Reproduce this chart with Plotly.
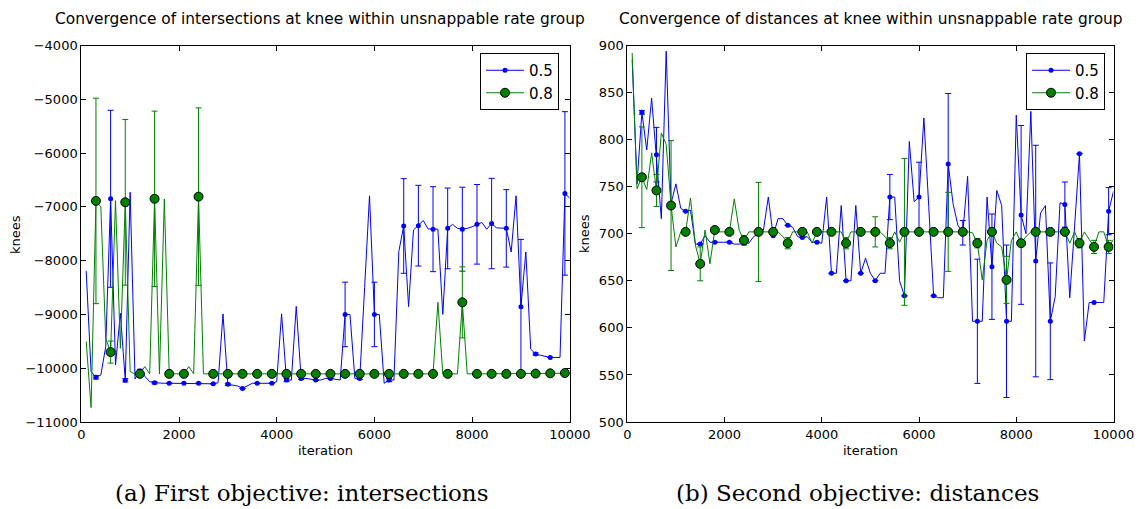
import plotly.graph_objects as go

# ---------------- data ----------------
iterations = list(range(100, 10001, 100))          # line points
marker_iterations = list(range(300, 10000, 300))   # points with markers / error bars

# (a) intersections, rate 0.5
int_r05 = [
    -8190, -10060, -10170, -10125, -9600, -6850, -9940, -8980, -10225, -6730,
    -10200, -10050, -10150, -10250, -10270, -10280, -10280, -10280, -10280, -10280,
    -10280, -10280, -10280, -10280, -10280, -10280, -10290, -10270, -8990, -10300,
    -10320, -10330, -10375, -10320, -10280, -10280, -10280, -10280, -10280, -10250,
    -8990, -10220, -10220, -8850, -10190, -10190, -10210, -10220, -10220, -10190,
    -10190, -10200, -10220, -9000, -9000, -10190, -10190, -8500, -6795, -9000,
    -9000, -10280, -10220, -10220, -7830, -7355, -8855, -7430, -7350, -7255,
    -7410, -7415, -7415, -9000, -7400, -7325, -7400, -7415, -7400, -7370,
    -7325, -7290, -7415, -7310, -7390, -7400, -7400, -7840, -6795, -8855,
    -7840, -9645, -9735, -9760, -9785, -9800, -9800, -9800, -6750, -6840,
]
int_r05_err = [
    30, 1645, 30, 30, 20, 0, 0, 0, 0, 20, 0,
    0, 0, 30, 20, 0, 0, 600, 20, 600, 30, 880,
    750, 790, 750, 780, 740, 840, 720, 1250, 20, 0, 1520,
]

# (a) intersections, rate 0.8
int_r08 = [
    -9505, -10730, -6890, -7000, -9450, -9700, -6885, -9630, -6915, -10060,
    -10110, -10105, -9970, -10105, -6850, -10105, -6855, -10105, -10105, -10105,
    -10105, -9970, -10105, -6810, -10105, -10105, -10105, -10105, -10105, -10105,
    -10105, -10105, -10105, -10105, -10105, -10105, -10105, -10105, -10105, -10105,
    -10105, -10105, -10105, -10105, -10105, -10105, -10105, -10105, -10105, -10105,
    -10105, -10105, -10105, -10105, -10105, -10105, -10105, -10105, -10105, -10105,
    -10105, -10105, -10105, -10105, -10105, -10105, -10105, -10105, -10105, -10105,
    -10105, -10105, -8775, -10105, -10105, -10105, -10105, -8775, -10105, -10105,
    -10105, -10105, -10105, -10105, -10105, -10105, -10105, -10105, -10105, -10105,
    -10105, -10105, -10100, -10100, -10100, -10095, -10095, -10095, -10090, -10090,
]
int_r08_err = [
    1910, 205, 1540, 0, 1630, 0, 0, 1650, 0, 0, 0,
    0, 0, 0, 0, 0, 0, 0, 0, 0, 0, 0,
    0, 0, 0, 660, 0, 0, 0, 0, 0, 0, 0,
]

# (b) distances, rate 0.5
dist_r05 = [
    885, 753, 829, 789, 844, 784, 716, 894, 732, 753,
    727, 724, 725, 689, 689, 698, 691, 691, 691, 691,
    691, 689, 689, 690, 690, 697, 700, 704, 739, 698,
    716, 716, 709, 707, 697, 696, 697, 691, 691, 690,
    739, 658, 658, 730, 650, 650, 730, 658, 674, 658,
    650, 658, 658, 739, 739, 650, 634, 798, 734, 739,
    823, 729, 634, 632, 632, 774, 732, 709, 701, 761,
    607, 607, 607, 739, 665, 746, 730, 607, 607, 826,
    720, 700, 830, 671, 722, 730, 607, 633, 733, 731,
    632, 708, 785, 586, 627, 627, 627, 627, 724, 745,
]
dist_r05_err = [
    2, 29, 0, 0, 0, 0, 0, 0, 0, 0, 0,
    0, 0, 0, 0, 0, 0, 24, 0, 37, 0, 75,
    13, 66, 56, 81, 95, 123, 62, 24, 0, 0, 25,
]

# (b) distances, rate 0.8
dist_r08 = [
    892, 748, 760, 747, 786, 746, 807, 795, 730, 686,
    702, 702, 738, 688, 668, 704, 668, 704, 702, 702,
    702, 737, 704, 693, 702, 702, 702, 702, 702, 702,
    702, 697, 690, 702, 702, 702, 702, 690, 702, 702,
    702, 702, 702, 702, 690, 702, 702, 702, 702, 702,
    702, 702, 697, 690, 702, 691, 702, 702, 702, 702,
    702, 702, 702, 702, 702, 702, 702, 702, 702, 702,
    701, 690, 651, 693, 702, 690, 686, 651, 693, 702,
    690, 697, 702, 702, 702, 702, 702, 702, 702, 702,
    690, 702, 690, 702, 694, 686, 702, 702, 686, 694,
]
dist_r08_err = [
    53.5, 17, 69, 0, 18, 0, 0, 5, 52.6, 0, 6,
    0, 0, 0, 6, 0, 16, 6, 78, 0, 0, 42,
    0, 5, 0, 25, 3, 0, 0, 0, 5, 7, 7,
]

rate_labels = ["0.5", "0.8"]
titles = [
    "Convergence of intersections at knee within unsnappable rate group",
    "Convergence of distances at knee within unsnappable rate group",
]
captions = ["(a) First objective: intersections", "(b) Second objective: distances"]

# ---------------- layout helpers ----------------
W, H = 1138, 509
BLUE = "#0000ff"
GREEN = "#008000"


def px_x(p):
    return p / W


def px_y(p):
    return 1 - p / H


def at_markers(series):
    return [series[iterations.index(it)] for it in marker_iterations]


fig = go.Figure()

panels = [
    (int_r05, int_r05_err, int_r08, int_r08_err, "x", "y", "legend"),
    (dist_r05, dist_r05_err, dist_r08, dist_r08_err, "x2", "y2", "legend2"),
]

for s05, e05, s08, e08, xa, ya, lg in panels:
    # rate 0.5
    fig.add_trace(go.Scatter(x=iterations, y=s05, mode="lines", xaxis=xa, yaxis=ya,
                             line=dict(color=BLUE, width=1), showlegend=False, hoverinfo="skip"))
    fig.add_trace(go.Scatter(x=marker_iterations, y=at_markers(s05), mode="markers", xaxis=xa, yaxis=ya,
                             marker=dict(color=BLUE, size=5, line=dict(width=0)),
                             error_y=dict(type="data", array=e05, visible=True, color=BLUE,
                                          thickness=1, width=3),
                             showlegend=False))
    # rate 0.8
    fig.add_trace(go.Scatter(x=iterations, y=s08, mode="lines", xaxis=xa, yaxis=ya,
                             line=dict(color=GREEN, width=1), showlegend=False, hoverinfo="skip"))
    fig.add_trace(go.Scatter(x=marker_iterations, y=at_markers(s08), mode="markers", xaxis=xa, yaxis=ya,
                             marker=dict(color=GREEN, size=9, line=dict(color="black", width=1)),
                             error_y=dict(type="data", array=e08, visible=True, color=GREEN,
                                          thickness=1, width=3),
                             showlegend=False))
    # legend entries
    fig.add_trace(go.Scatter(x=[None], y=[None], mode="lines+markers", name=rate_labels[0],
                             xaxis=xa, yaxis=ya, legend=lg,
                             line=dict(color=BLUE, width=1), marker=dict(color=BLUE, size=5)))
    fig.add_trace(go.Scatter(x=[None], y=[None], mode="lines+markers", name=rate_labels[1],
                             xaxis=xa, yaxis=ya, legend=lg,
                             line=dict(color=GREEN, width=1),
                             marker=dict(color=GREEN, size=9, line=dict(color="black", width=1))))

TICKFONT = dict(family="DejaVu Sans", size=13, color="black")
axis_common = dict(showline=True, linecolor="black", linewidth=1, mirror="allticks",
                   ticks="inside", ticklen=5, tickwidth=1, tickcolor="black",
                   showgrid=False, zeroline=False, tickfont=TICKFONT, automargin=False)

ydom = [px_y(422), px_y(45.5)]
xdom1 = [px_x(81.3), px_x(569.8)]
xdom2 = [px_x(627.3), px_x(1113.5)]

legend_common = dict(xanchor="right", yanchor="top", bordercolor="black", borderwidth=1,
                     bgcolor="white", font=dict(family="DejaVu Sans", size=15, color="black"),
                     itemwidth=38, tracegroupgap=0)

fig.update_layout(
    template="none",
    width=W, height=H, autosize=False,
    margin=dict(l=0, r=0, t=0, b=0, pad=0, autoexpand=False),
    paper_bgcolor="white", plot_bgcolor="white",
    xaxis=dict(domain=xdom1, range=[0, 10000], dtick=2000, tick0=0, tickformat="d",
               anchor="y", **axis_common),
    yaxis=dict(domain=ydom, range=[-11000, -4000], dtick=1000, tickformat="d",
               anchor="x", **axis_common),
    xaxis2=dict(domain=xdom2, range=[0, 10000], dtick=2000, tick0=0, tickformat="d",
                anchor="y2", **axis_common),
    yaxis2=dict(domain=ydom, range=[500, 900], dtick=50, tickformat="d",
                anchor="x2", **axis_common),
    legend=dict(x=px_x(559), y=px_y(53), **legend_common),
    legend2=dict(x=px_x(1105), y=px_y(53), **legend_common),
)

annots = []
for cx, t in zip([320, 871], titles):
    annots.append(dict(x=px_x(cx), y=px_y(19), xref="paper", yref="paper", text=t,
                       showarrow=False, xanchor="center", yanchor="middle",
                       font=dict(family="DejaVu Sans", size=15.4, color="black")))
for cx in [325.5, 870.4]:
    annots.append(dict(x=px_x(cx), y=px_y(450), xref="paper", yref="paper", text="iteration",
                       showarrow=False, xanchor="center", yanchor="middle",
                       font=dict(family="DejaVu Sans", size=13, color="black")))
for cx in [16, 585]:
    annots.append(dict(x=px_x(cx), y=px_y(234), xref="paper", yref="paper", text="knees",
                       showarrow=False, xanchor="center", yanchor="middle", textangle=-90,
                       font=dict(family="DejaVu Sans", size=13, color="black")))
for cx, c in zip([302, 857], captions):
    annots.append(dict(x=px_x(cx), y=px_y(493), xref="paper", yref="paper", text=c,
                       showarrow=False, xanchor="center", yanchor="middle",
                       font=dict(family="DejaVu Serif", size=23, color="black")))
fig.update_layout(annotations=annots)

# remove the page's default body margin so the figure sits at the window's origin
page_fix = ("document.documentElement.style.margin='0';document.body.style.margin='0';"
            "document.documentElement.style.overflow='hidden';document.body.style.overflow='hidden';")
fig.write_html("out.html", post_script=page_fix,
               config={"displayModeBar": False, "staticPlot": True})
